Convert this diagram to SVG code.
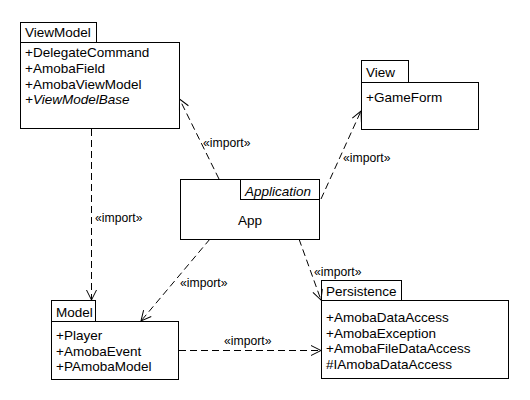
<svg xmlns="http://www.w3.org/2000/svg" width="530" height="400" viewBox="0 0 530 400">
<style>
.box{fill:#fff;stroke:#000;stroke-width:1}
.t{font-family:"Liberation Sans",Arial,sans-serif;font-size:13.5px;fill:#000}
.i{font-style:italic}
.lbl{font-family:"Liberation Sans",Arial,sans-serif;font-size:12.2px;fill:#000}
.dep{fill:none;stroke:#000;stroke-width:1;stroke-dasharray:7,4;marker-end:url(#open)}
</style>
<defs>
<marker id="open" markerUnits="userSpaceOnUse" viewBox="-12 -7 14 14" refX="0" refY="0" markerWidth="14" markerHeight="14" orient="auto">
<path d="M-10,-5 L0,0 L-10,5" fill="none" stroke="#000" stroke-width="1"/>
</marker>
</defs>
<rect width="530" height="400" fill="#fff"/>
<g id="ViewModel">
<rect class="box" x="20.5" y="22.5" width="76" height="20"/>
<rect class="box" x="20.5" y="42.5" width="159" height="86"/>
<text class="t" x="25" y="37">ViewModel</text>
<text class="t" x="25" y="57">+DelegateCommand</text>
<text class="t" x="25" y="73">+AmobaField</text>
<text class="t" x="25" y="88.5">+AmobaViewModel</text>
<text class="t i" x="25" y="104">+ViewModelBase</text>
</g>
<g id="View">
<rect class="box" x="361.5" y="60.5" width="47" height="22"/>
<rect class="box" x="361.5" y="82.5" width="117" height="47"/>
<text class="t" x="366" y="77">View</text>
<text class="t" x="366" y="102">+GameForm</text>
</g>
<g id="Application">
<rect class="box" x="180.5" y="179.5" width="139" height="60"/>
<rect class="box" x="240.5" y="179.5" width="79" height="20"/>
<text class="t i" x="245" y="196">Application</text>
<text class="t" x="250" y="225" text-anchor="middle">App</text>
</g>
<g id="Model">
<rect class="box" x="51.5" y="300.5" width="44" height="21"/>
<rect class="box" x="51.5" y="321.5" width="127" height="58"/>
<text class="t" x="56" y="317">Model</text>
<text class="t" x="56" y="340">+Player</text>
<text class="t" x="56" y="355.5">+AmobaEvent</text>
<text class="t" x="56" y="371">+PAmobaModel</text>
</g>
<g id="Persistence">
<rect class="box" x="321.5" y="280.5" width="80" height="20"/>
<rect class="box" x="321.5" y="300.5" width="187" height="78"/>
<text class="t" x="326" y="296">Persistence</text>
<text class="t" x="326" y="322">+AmobaDataAccess</text>
<text class="t" x="326" y="337.5">+AmobaException</text>
<text class="t" x="326" y="353">+AmobaFileDataAccess</text>
<text class="t" x="326" y="368.5">#IAmobaDataAccess</text>
</g>
<g id="connectors">
<path class="dep" d="M91.5,129 L91.5,300"/>
<path class="dep" d="M219,179 L179.5,99"/>
<path class="dep" d="M321,199 L361,111"/>
<path class="dep" d="M210,239 L141,321"/>
<path class="dep" d="M299,239 L321,300"/>
<path class="dep" d="M179,350.5 L321,350.5"/>
<text class="lbl" x="95" y="222">«import»</text>
<text class="lbl" x="203" y="147">«import»</text>
<text class="lbl" x="343" y="162">«import»</text>
<text class="lbl" x="180" y="287">«import»</text>
<text class="lbl" x="314" y="276">«import»</text>
<text class="lbl" x="224" y="345">«import»</text>
</g>
</svg>
